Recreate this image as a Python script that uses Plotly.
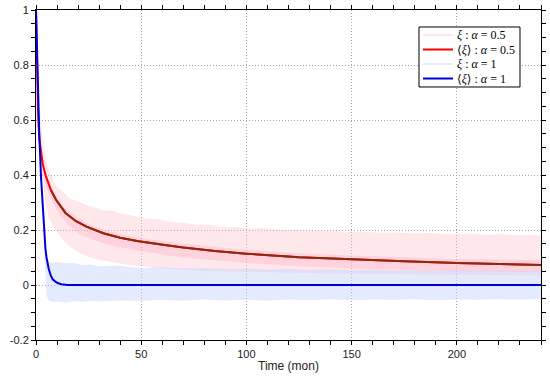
import plotly.graph_objects as go

# ---- data ----
t_red = [0, 0.5, 1, 1.6, 2.4, 3.2, 4.7, 7.1, 9.5, 14, 19, 24, 32, 40, 48, 60, 70, 85, 100, 125, 150, 175, 200, 240]
mean_red = [1.0, 0.72, 0.62, 0.53, 0.48, 0.44, 0.395, 0.345, 0.31, 0.262, 0.232, 0.212, 0.188, 0.172, 0.16, 0.146, 0.136, 0.124, 0.114, 0.101, 0.093, 0.086, 0.080, 0.073]

t_blue = [0, 0.5, 1, 1.5, 2.4, 3.5, 4.5, 5, 6, 7, 8, 10, 12, 15, 240]
mean_blue = [1.0, 0.82, 0.67, 0.56, 0.39, 0.24, 0.13, 0.10, 0.06, 0.035, 0.02, 0.008, 0.003, 0.0, 0.0]

band_t = [0, 1, 2, 3, 4.7, 6, 8, 9.5, 12, 16, 20, 24, 28, 32, 36, 40, 45, 52, 58, 64, 70, 76, 82, 88, 94,
          100, 108, 116, 124, 132, 140, 148, 156, 164, 172, 180, 188, 196, 204, 212, 220, 228, 236, 240]
pink_hi = [1.0, 0.72, 0.63, 0.55, 0.46, 0.42, 0.385, 0.36, 0.345, 0.315, 0.305, 0.29, 0.282, 0.27, 0.272, 0.26, 0.254, 0.242, 0.24, 0.23, 0.226, 0.22, 0.219, 0.212, 0.211,
           0.206, 0.207, 0.201, 0.2, 0.197, 0.198, 0.193, 0.194, 0.19, 0.191, 0.187, 0.189, 0.185, 0.186, 0.183, 0.185, 0.181, 0.182, 0.18]
pink_lo = [1.0, 0.56, 0.49, 0.39, 0.29, 0.25, 0.215, 0.2, 0.17, 0.14, 0.12, 0.105, 0.095, 0.088, 0.082, 0.078, 0.072, 0.066, 0.062, 0.058, 0.055, 0.053, 0.051, 0.05, 0.049,
           0.047, 0.046, 0.045, 0.044, 0.043, 0.042, 0.041, 0.04, 0.04, 0.039, 0.038, 0.038, 0.037, 0.037, 0.036, 0.036, 0.035, 0.035, 0.035]

inner_t = [4.7, 8, 12, 16, 20, 24, 32, 40, 52, 70, 100, 125, 150, 175, 200, 240]
inner_hi = [0.41, 0.35, 0.295, 0.265, 0.245, 0.225, 0.2, 0.185, 0.168, 0.15, 0.128, 0.115, 0.107, 0.1, 0.095, 0.09]
inner_lo = [0.36, 0.3, 0.245, 0.215, 0.19, 0.175, 0.152, 0.137, 0.12, 0.1, 0.08, 0.068, 0.06, 0.055, 0.05, 0.047]

blue_t = [0, 1, 2.4, 3.5, 4.5, 5, 6, 8, 10, 14, 18, 22, 26, 30, 40, 50, 60, 70, 80, 90, 100, 110, 120, 130, 140,
          150, 160, 170, 180, 190, 200, 210, 220, 230, 240]
blue_hi = [1.0, 0.69, 0.42, 0.27, 0.17, 0.1, 0.085, 0.08, 0.085, 0.078, 0.08, 0.072, 0.075, 0.068, 0.07, 0.062, 0.065, 0.06, 0.062, 0.058, 0.06, 0.056, 0.058, 0.055, 0.057,
           0.054, 0.056, 0.053, 0.055, 0.052, 0.054, 0.052, 0.053, 0.051, 0.052]
blue_lo = [1.0, 0.65, 0.37, 0.2, 0.06, -0.04, -0.055, -0.062, -0.06, -0.064, -0.058, -0.062, -0.057, -0.06, -0.056, -0.058, -0.054, -0.057, -0.053, -0.056, -0.054, -0.057, -0.053, -0.055, -0.052,
           -0.055, -0.053, -0.054, -0.052, -0.055, -0.053, -0.054, -0.052, -0.053, -0.052]

y_ticks = [-0.2, 0, 0.2, 0.4, 0.6, 0.8, 1]
y_ticktext = ["-0.2", "0", "0.2", "0.4", "0.6", "0.8", "1"]
x_ticks = [0, 50, 100, 150, 200]
x_ticktext = ["0", "50", "100", "150", "200"]

legend_names = ["<i>ξ</i> : <i>α</i> = 0.5", "⟨<i>ξ</i>⟩ : <i>α</i> = 0.5",
                "<i>ξ</i> : <i>α</i> = 1", "⟨<i>ξ</i>⟩ : <i>α</i> = 1"]
legend_colors = ["#ffe6ec", "#ff0000", "#e6ecff", "#0000dd"]

fig = go.Figure()


def band(t, hi, lo, color):
    return go.Scatter(x=list(t) + list(t)[::-1], y=list(hi) + list(lo)[::-1],
                      fill="toself", fillcolor=color, mode="lines",
                      line=dict(width=0), hoverinfo="skip", showlegend=False)


fig.add_trace(band(band_t, pink_hi, pink_lo, "rgba(255,190,200,0.36)"))
fig.add_trace(band(inner_t, inner_hi, inner_lo, "rgba(255,170,195,0.35)"))
fig.add_trace(band(blue_t, blue_hi, blue_lo, "rgba(195,210,255,0.45)"))

fig.add_trace(go.Scatter(x=t_red, y=mean_red, mode="lines", name="mean a=0.5",
                         line=dict(color="#ff0000", width=2), showlegend=False))
k = t_red.index(7.1)
fig.add_trace(go.Scatter(x=t_red[k:], y=mean_red[k:], mode="lines", showlegend=False,
                         line=dict(color="#8a2c10", width=2)))
fig.add_trace(go.Scatter(x=t_blue, y=mean_blue, mode="lines", name="mean a=1",
                         line=dict(color="#0000dd", width=2), showlegend=False))
# invisible trace to anchor the mirrored top/right axes
fig.add_trace(go.Scatter(x=[None], y=[None], xaxis="x2", yaxis="y2", showlegend=False, hoverinfo="skip"))

tickfont = dict(family="Liberation Sans, Arial", size=11, color="#222")
axis_common = dict(showline=True, linecolor="black", linewidth=1,
                   ticks="outside", ticklen=4, tickcolor="black", zeroline=False,
                   automargin=False, tickfont=tickfont)
x_minor = list(range(0, 241, 10))
y_minor = [round(-0.2 + 0.05 * i, 2) for i in range(25)]

# manual legend box (paper coords relative to plot area)
box_x0, box_x1, box_y0, box_y1 = 0.7584, 0.9584, 0.7667, 0.9485
row_y = [0.9242, 0.8803, 0.8364, 0.7924]
sw_x0, sw_x1, txt_x = 0.7663, 0.8257, 0.8317
shapes = [dict(type="rect", xref="paper", yref="paper", x0=box_x0, x1=box_x1, y0=box_y0, y1=box_y1,
               line=dict(color="black", width=1), fillcolor="white", layer="above")]
annotations = []
for name, col, ry in zip(legend_names, legend_colors, row_y):
    shapes.append(dict(type="line", xref="paper", yref="paper", x0=sw_x0, x1=sw_x1, y0=ry, y1=ry,
                       line=dict(color=col, width=2), layer="above"))
    annotations.append(dict(xref="paper", yref="paper", x=txt_x, y=ry, text=name, showarrow=False,
                            xanchor="left", yanchor="middle", borderpad=0,
                            font=dict(family="Liberation Serif, DejaVu Serif", size=12, color="black")))

fig.update_layout(
    xaxis=dict(range=[0, 240], tickvals=x_ticks, ticktext=x_ticktext,
               showgrid=True, gridcolor="#a8a8a8", griddash="1px,2px", gridwidth=1,
               minor=dict(tickvals=x_minor, ticks="outside", ticklen=4, tickcolor="black", showgrid=False),
               title=dict(text="Time (mon)", standoff=2,
                          font=dict(family="Liberation Sans, Arial", size=12, color="#222")),
               **axis_common),
    yaxis=dict(range=[-0.2, 1], tickvals=y_ticks, ticktext=y_ticktext,
               showgrid=True, gridcolor="#a8a8a8", griddash="1px,2px", gridwidth=1,
               minor=dict(tickvals=y_minor, ticks="outside", ticklen=4, tickcolor="black", showgrid=False),
               **axis_common),
    xaxis2=dict(range=[0, 240], overlaying="x", side="top", anchor="y", tickvals=x_ticks,
                showticklabels=False, showgrid=False,
                minor=dict(tickvals=x_minor, ticks="outside", ticklen=4, tickcolor="black", showgrid=False),
                **axis_common),
    yaxis2=dict(range=[-0.2, 1], overlaying="y", side="right", anchor="x", tickvals=y_ticks,
                showticklabels=False, showgrid=False,
                minor=dict(tickvals=y_minor, ticks="outside", ticklen=4, tickcolor="black", showgrid=False),
                **axis_common),
    width=550, height=383,
    margin=dict(l=36, r=9, t=10, b=43),
    plot_bgcolor="white", paper_bgcolor="white",
    showlegend=False,
    shapes=shapes,
    annotations=annotations,
)

fig.write_html("out.html", config={"displayModeBar": False},
               post_script="document.body.style.margin='0';")
